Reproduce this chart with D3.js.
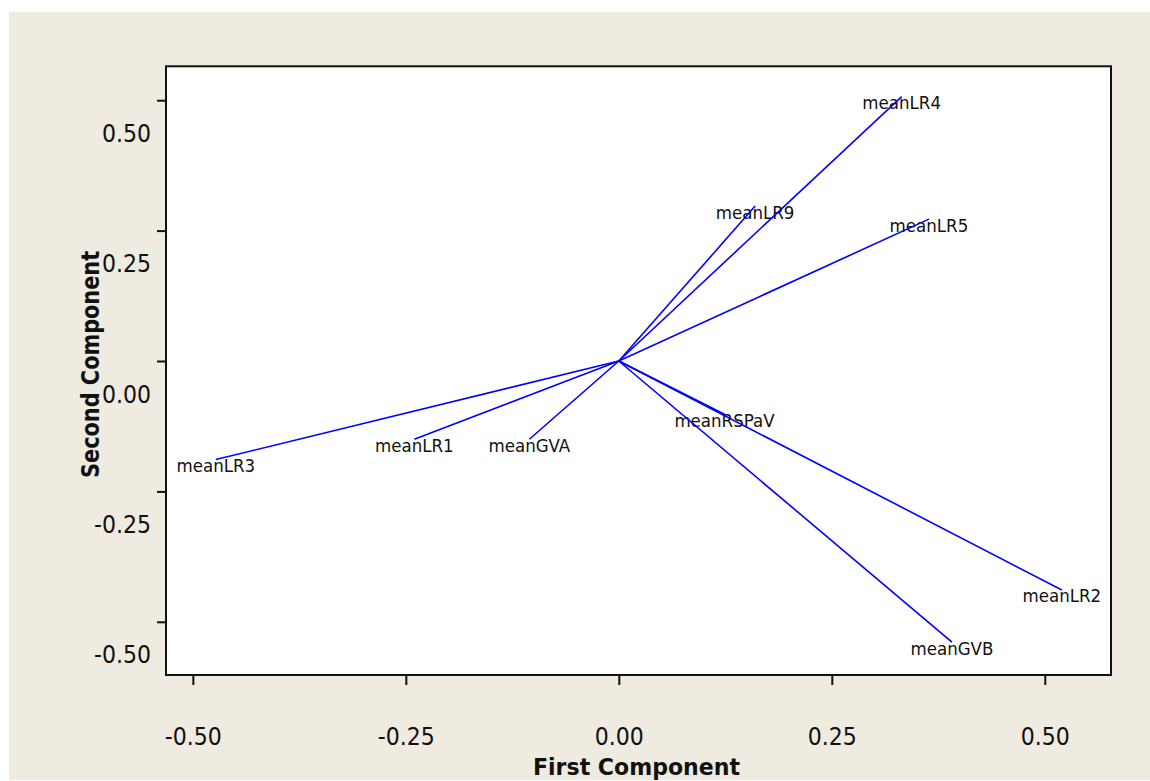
<!DOCTYPE html>
<html>
<head>
<meta charset="utf-8">
<script src="https://cdn.jsdelivr.net/npm/d3@7"></script>
<style>
  html, body { margin: 0; padding: 0; background: #ffffff; }
  svg { display: block; }
  .cond { font-family: "DejaVu Sans Condensed", "DejaVu Sans", sans-serif; font-stretch: condensed; }
</style>
</head>
<body>
<svg id="chart" width="1150" height="781"></svg>
<script>
// ---- data ----
const variables = ["meanLR1", "meanLR2", "meanLR3", "meanLR4", "meanLR5", "meanLR9", "meanGVA", "meanGVB", "meanRSPaV"];
const firstComponent  = [-0.240, 0.520, -0.473, 0.332, 0.364, 0.160, -0.105, 0.391, 0.124];
const secondComponent = [-0.150, -0.439, -0.189, 0.507, 0.272, 0.297, -0.150, -0.539, -0.102];
const xTickValues = [-0.5, -0.25, 0, 0.25, 0.5];
const xTickLabels = ["-0.50", "-0.25", "0.00", "0.25", "0.50"];
const yTickValues = [-0.5, -0.25, 0, 0.25, 0.5];
const yTickLabels = ["-0.50", "-0.25", "0.00", "0.25", "0.50"];
const xTitle = "First Component";
const yTitle = "Second Component";

// ---- layout ----
const svg = d3.select("#chart");
const plot = { left: 166, top: 66.3, right: 1111, bottom: 675 };

svg.append("rect").attr("x", 9).attr("y", 12).attr("width", 1141).attr("height", 768)
  .attr("fill", "#efebe1");

const x = d3.scaleLinear().domain([-0.5315, 0.5777]).range([plot.left, plot.right]);
const y = d3.scaleLinear().domain([-0.602, 0.565]).range([plot.bottom, plot.top]);

svg.append("rect")
  .attr("x", plot.left).attr("y", plot.top)
  .attr("width", plot.right - plot.left).attr("height", plot.bottom - plot.top)
  .attr("fill", "#ffffff").attr("stroke", "#111").attr("stroke-width", 2);

// axes
const xAxis = d3.axisBottom(x).tickValues(xTickValues)
  .tickFormat((d, i) => xTickLabels[i]).tickSize(10).tickSizeOuter(0);
const gx = svg.append("g").attr("transform", `translate(0,${plot.bottom})`).call(xAxis);
gx.select(".domain").remove();
gx.selectAll(".tick line").attr("stroke", "#111").attr("stroke-width", 2);
gx.selectAll(".tick text").attr("class", "cond").attr("y", 70).attr("dy", 0)
  .attr("font-size", 24.5).attr("fill", "#111");

const yAxis = d3.axisLeft(y).tickValues(yTickValues)
  .tickFormat((d, i) => yTickLabels[i]).tickSize(9).tickSizeOuter(0).tickPadding(6);
const gy = svg.append("g").attr("transform", `translate(${plot.left},0)`).call(yAxis);
gy.select(".domain").remove();
gy.selectAll(".tick line").attr("stroke", "#111").attr("stroke-width", 2);
gy.selectAll(".tick text").attr("class", "cond").attr("y", 41).attr("dy", 0)
  .attr("font-size", 24.5).attr("fill", "#111");

// titles
svg.append("text").attr("class", "cond")
  .attr("x", 636.5).attr("y", 775).attr("text-anchor", "middle")
  .attr("font-size", 23).attr("font-weight", "bold").attr("fill", "#111")
  .attr("textLength", 207).attr("lengthAdjust", "spacingAndGlyphs")
  .text(xTitle);
svg.append("text").attr("class", "cond")
  .attr("transform", `translate(99,364.4) rotate(-90)`).attr("text-anchor", "middle")
  .attr("font-size", 24).attr("font-weight", "bold").attr("fill", "#111")
  .attr("textLength", 227).attr("lengthAdjust", "spacingAndGlyphs")
  .text(yTitle);

// labels
const pts = variables.map((v, i) => ({ name: v, px: firstComponent[i], py: secondComponent[i] }));
svg.append("g").selectAll("text").data(pts).join("text")
  .attr("class", "cond")
  .attr("x", d => x(d.px)).attr("y", d => y(d.py) + 12.5)
  .attr("text-anchor", "middle").attr("font-size", 18.5).attr("fill", "#111")
  .text(d => d.name);

// vectors
svg.append("g").selectAll("line").data(pts).join("line")
  .attr("x1", x(0)).attr("y1", y(0))
  .attr("x2", d => x(d.px)).attr("y2", d => y(d.py))
  .attr("stroke", "#0000ff").attr("stroke-width", 1.6);
</script>
</body>
</html>
